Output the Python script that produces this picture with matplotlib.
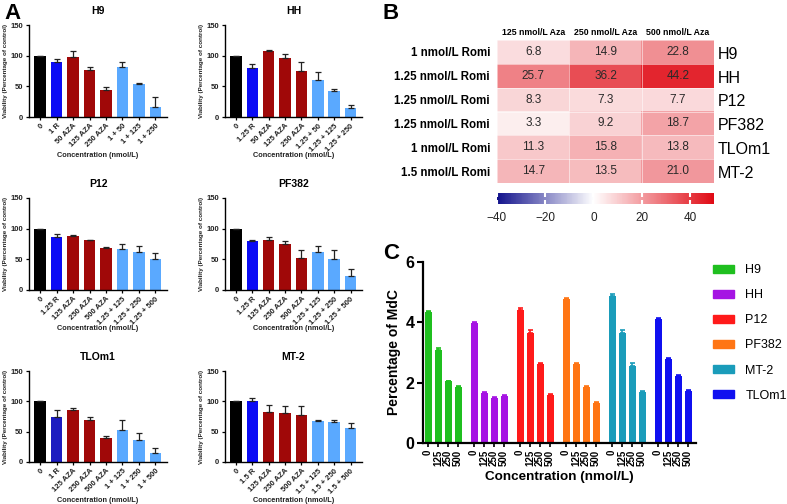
import numpy as np
import matplotlib
matplotlib.use('Agg')
import matplotlib.pyplot as plt
from matplotlib.colors import LinearSegmentedColormap, Normalize
from matplotlib.patches import Patch

plt.rcParams['font.family'] = ['Liberation Sans', 'DejaVu Sans']

# ---- panel A: viability (% of control) ----
h9_labels = ['0', '1 R', '50 AZA', '125 AZA', '250 AZA', '1 + 50', '1 + 125', '1 + 250']
h9_vals = [100, 90, 98, 77, 44, 82, 54, 17]
h9_err = [0, 5, 10, 4, 5, 8, 2, 15]

hh_labels = ['0', '1.25 R', '50 AZA', '125 AZA', '250 AZA', '1.25 + 50', '1.25 + 125', '1.25 + 250']
hh_vals = [100, 80, 107, 97, 75, 60, 42, 15]
hh_err = [0, 6, 2, 5, 14, 14, 4, 4]

p12_labels = ['0', '1.25 R', '125 AZA', '250 AZA', '500 AZA', '1.25 + 125', '1.25 + 250', '1.25 + 500']
p12_vals = [100, 86, 88, 81, 68, 67, 62, 51]
p12_err = [0, 5, 1, 1, 2, 8, 10, 10]

pf382_labels = ['0', '1.25 R', '125 AZA', '250 AZA', '500 AZA', '1.25 + 125', '1.25 + 250', '1.25 + 500']
pf382_vals = [100, 80, 82, 75, 52, 62, 51, 23]
pf382_err = [0, 1, 4, 5, 14, 10, 15, 12]

tlom1_labels = ['0', '1 R', '125 AZA', '250 AZA', '500 AZA', '1 + 125', '1 + 250', '1 + 500']
tlom1_vals = [100, 75, 85, 69, 39, 52, 36, 15]
tlom1_err = [0, 11, 4, 6, 4, 17, 11, 8]

mt2_labels = ['0', '1.5 R', '125 AZA', '250 AZA', '500 AZA', '1.5 + 125', '1.5 + 250', '1.5 + 500']
mt2_vals = [100, 100, 82, 80, 77, 68, 66, 56]
mt2_err = [0, 6, 12, 13, 15, 1, 4, 9]

# ---- panel B: heatmap ----
aza_cols = ['125 nmol/L Aza', '250 nmol/L Aza', '500 nmol/L Aza']
romi_rows = ['1 nmol/L Romi', '1.25 nmol/L Romi', '1.25 nmol/L Romi',
             '1.25 nmol/L Romi', '1 nmol/L Romi', '1.5 nmol/L Romi']
heat_lines = ['H9', 'HH', 'P12', 'PF382', 'TLOm1', 'MT-2']
heat_vals = [[6.8, 14.9, 22.8],
             [25.7, 36.2, 44.2],
             [8.3, 7.3, 7.7],
             [3.3, 9.2, 18.7],
             [11.3, 15.8, 13.8],
             [14.7, 13.5, 21.0]]

# ---- panel C: percentage of MdC ----
mdc_lines = ['H9', 'HH', 'P12', 'PF382', 'MT-2', 'TLOm1']
mdc_conc = ['0', '125', '250', '500']
mdc_vals = [[4.34, 3.09, 2.04, 1.84],
            [3.98, 1.67, 1.48, 1.55],
            [4.42, 3.64, 2.61, 1.59],
            [4.76, 2.62, 1.86, 1.34],
            [4.87, 3.66, 2.56, 1.70],
            [4.11, 2.78, 2.22, 1.73]]
mdc_err = [[0.03, 0.06, 0.03, 0.04],
           [0.04, 0.03, 0.03, 0.04],
           [0.05, 0.09, 0.03, 0.03],
           [0.04, 0.03, 0.03, 0.03],
           [0.08, 0.08, 0.08, 0.03],
           [0.03, 0.03, 0.03, 0.03]]
mdc_colors = ['#1fbf1f', '#a514e3', '#ff1a1a', '#ff7514', '#1a9cba', '#1010f0']

W, H = 787, 504
fig = plt.figure(figsize=(W / 100, H / 100), dpi=100)


def rect(l, t, r, b):
    return [l / W, 1 - b / H, (r - l) / W, (b - t) / H]


dark_red = '#a00808'
light_blue = '#5aa9ff'


def viability(box, title, labels, vals, err, rcol='#0b0bf5'):
    ax = fig.add_axes(box)
    x = np.arange(len(vals))
    cols = ['black', rcol] + [dark_red] * 3 + [light_blue] * 3
    ax.bar(x, vals, width=0.7, color=cols, zorder=2)
    ax.errorbar(x, vals, yerr=[np.zeros(len(err)), err], fmt='none', ecolor='#222222',
                elinewidth=0.9, capsize=2.2, capthick=0.9, zorder=3)
    ax.set_xlim(-0.67, 7.7)
    ax.set_ylim(0, 150)
    ax.set_yticks([0, 50, 100, 150])
    ax.set_xticks(x)
    ax.set_xticklabels(labels, rotation=45, ha='right', rotation_mode='anchor',
                       fontsize=5.5, fontweight='bold', color='#222222')
    for t in ax.get_yticklabels():
        t.set_fontsize(5.5)
        t.set_fontweight('bold')
        t.set_color('#222222')
    ax.tick_params(length=2.5, width=0.9, pad=1.5)
    for s in ['top', 'right']:
        ax.spines[s].set_visible(False)
    for s in ['left', 'bottom']:
        ax.spines[s].set_linewidth(1.0)
    ax.set_title(title, fontsize=7.5, fontweight='bold', pad=8)
    ax.set_xlabel('Concentration (nmol/L)', fontsize=5.3, fontweight='bold', color='#222222')
    ax.xaxis.set_label_coords(0.5, -0.38)
    ax.set_ylabel('Viability (Percentage of control)', fontsize=4.5, fontweight='bold', color='#222222')
    ax.yaxis.set_label_coords(-0.15, 0.5)
    return ax


viability(rect(29, 25, 167, 117), 'H9', h9_labels, h9_vals, h9_err)
viability(rect(225, 25, 362, 117), 'HH', hh_labels, hh_vals, hh_err)
viability(rect(29, 198, 167, 290), 'P12', p12_labels, p12_vals, p12_err)
viability(rect(225, 198, 362, 290), 'PF382', pf382_labels, pf382_vals, pf382_err)
viability(rect(29, 371, 167, 462), 'TLOm1', tlom1_labels, tlom1_vals, tlom1_err, rcol='#1c1cc0')
viability(rect(225, 371, 362, 462), 'MT-2', mt2_labels, mt2_vals, mt2_err)

# heatmap
cmap = LinearSegmentedColormap.from_list('navy_red', [(0, '#12128c'), (40 / 90, 'white'), (1, '#e00a14')])
norm = Normalize(vmin=-40, vmax=50)
axh = fig.add_axes(rect(497, 40, 714, 183))
hv = np.array(heat_vals)
im = axh.imshow(hv, cmap=cmap, norm=norm, aspect='auto')
for i in range(hv.shape[0]):
    for j in range(hv.shape[1]):
        axh.text(j, i, f'{hv[i, j]:.1f}', ha='center', va='center', fontsize=8.5, color='#2a2a2a')
axh.set_xticks(np.arange(len(aza_cols)))
axh.set_xticklabels(aza_cols, fontsize=6.3, fontweight='bold')
axh.xaxis.tick_top()
axh.set_yticks(np.arange(len(romi_rows)))
axh.set_yticklabels(romi_rows, fontsize=8.3, fontweight='bold')
axh.tick_params(axis='y', length=0, pad=5)
axh.tick_params(axis='x', length=0, pad=2)
for i, name in enumerate(heat_lines):
    axh.text(1.015, i + 0.1, name, transform=axh.get_yaxis_transform(), ha='left', va='center', fontsize=11.5)
for s in axh.spines.values():
    s.set_visible(False)
axh.set_xticks(np.arange(-0.5, len(aza_cols), 1), minor=True)
axh.set_yticks(np.arange(-0.5, len(romi_rows), 1), minor=True)
axh.grid(which='minor', color='white', linewidth=0.6, alpha=0.6)
axh.tick_params(which='minor', length=0)

cax = fig.add_axes(rect(497, 193, 714, 204))
cb = fig.colorbar(im, cax=cax, orientation='horizontal', ticks=[-40, -20, 0, 20, 40])
cb.outline.set_visible(False)
cax.tick_params(direction='in', color='white', length=3, width=1.5, labelsize=8.5, pad=6,
                top=True, labelcolor='#222222')

# panel C
axc = fig.add_axes(rect(423, 262, 696, 443))
gap = 4.6
xt, xl = [], []
for g, name in enumerate(mdc_lines):
    pos = g * gap + np.arange(len(mdc_conc))
    axc.bar(pos, mdc_vals[g], width=0.7, color=mdc_colors[g], zorder=2)
    axc.errorbar(pos, mdc_vals[g], yerr=[np.zeros(4), mdc_err[g]], fmt='none', ecolor=mdc_colors[g],
                 elinewidth=1.2, capsize=1.8, capthick=1.2, zorder=3)
    xt += list(pos)
    xl += mdc_conc
axc.set_xlim(-0.5, 26.8)
axc.set_ylim(0, 6)
axc.set_yticks([0, 2, 4, 6])
axc.set_xticks(xt)
axc.set_xticklabels(xl, rotation=90, fontsize=7, fontweight='bold')
for t in axc.get_yticklabels():
    t.set_fontsize(11.5)
    t.set_fontweight('bold')
axc.tick_params(axis='y', length=4, width=1.5, pad=2)
axc.tick_params(axis='x', length=3, width=1.2, pad=2)
for s in ['top', 'right']:
    axc.spines[s].set_visible(False)
for s in ['left', 'bottom']:
    axc.spines[s].set_linewidth(1.6)
axc.set_ylabel('Percentage of MdC', fontsize=10, fontweight='bold')
axc.yaxis.set_label_coords(-0.08, 0.5)
axc.set_xlabel('Concentration (nmol/L)', fontsize=9.7, fontweight='bold')
axc.xaxis.set_label_coords(0.5, -0.155)

handles = [Patch(color=c) for c in mdc_colors]
fig.legend(handles, mdc_lines, loc='upper left', bbox_to_anchor=(713 / W, 1 - 264 / H), frameon=False,
           fontsize=9, handlelength=1.7, handleheight=0.6, labelspacing=1.05, handletextpad=0.9,
           borderaxespad=0, borderpad=0)

# panel letters
fig.text(4 / W, 1 - 3 / H, 'A', fontsize=16, fontweight='bold', va='top')
fig.text(383 / W, 1 - 3 / H, 'B', fontsize=16, fontweight='bold', va='top')
fig.text(383 / W, 1 - 243 / H, 'C', fontsize=16, fontweight='bold', va='top')

fig.savefig('out.png', dpi=100)
